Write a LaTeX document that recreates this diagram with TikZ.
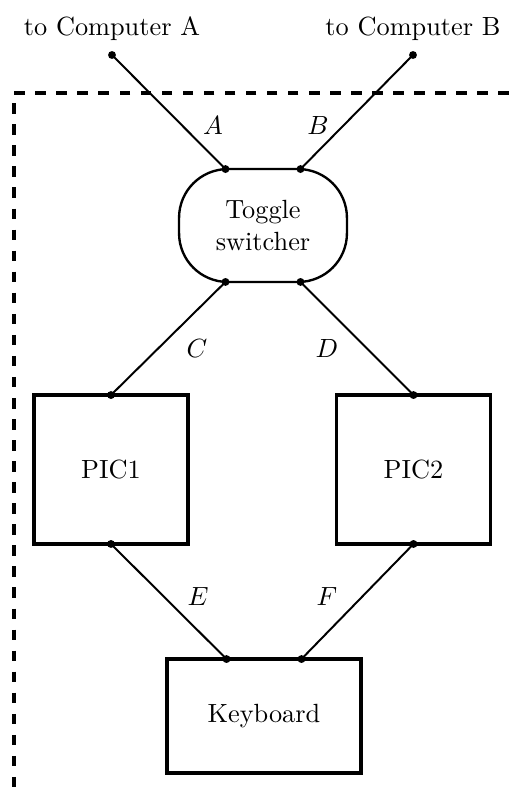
\documentclass[tikz,border=0pt]{standalone}
\usetikzlibrary{calc}
\begin{document}
\begin{tikzpicture}[x=0.38pt,y=-0.38pt,
  box/.style={draw,line width=1.3pt,inner sep=0pt,outer sep=0pt},
  togglebox/.style={draw,line width=0.9pt,inner sep=0pt,outer sep=0pt,rounded corners=18.5pt,align=center},
  wire/.style={line width=0.75pt},
  frame/.style={line width=1.2pt,dash pattern=on 4pt off 4pt},
  dot/.style={circle,fill,inner sep=0pt,minimum size=3pt}]
\useasboundingbox (0,0) rectangle (509,794);

% boundary of the device
\draw[frame] (509,93) -| (14,794);

% main blocks
\node[togglebox,minimum width=63.8pt,minimum height=42.9pt] (tog) at (263,225.5) {Toggle\\switcher};
\node[box,minimum width=58.5pt,minimum height=56.6pt] (pic1) at (111,469.5) {PIC1};
\node[box,minimum width=58.5pt,minimum height=56.6pt] (pic2) at (413.5,469.5) {PIC2};
\node[box,minimum width=73.7pt,minimum height=43.3pt] (kbd) at (264,716) {Keyboard};

% external endpoints
\node[anchor=base] (labA) at (112,35) {to Computer A};
\node[anchor=base] (labB) at (413,35) {to Computer B};
\coordinate (compA) at (112,55);
\coordinate (compB) at (413,55);

% connection points on the blocks
\coordinate (tA) at ($(tog.north)+(-37.5,0)$);
\coordinate (tB) at ($(tog.north)+(37.5,0)$);
\coordinate (tC) at ($(tog.south)+(-37.5,0)$);
\coordinate (tD) at ($(tog.south)+(37.5,0)$);
\coordinate (p1t) at (pic1.north);
\coordinate (p1b) at (pic1.south);
\coordinate (p2t) at (pic2.north);
\coordinate (p2b) at (pic2.south);
\coordinate (kE) at ($(kbd.north)+(-37.5,0)$);
\coordinate (kF) at ($(kbd.north)+(37.5,0)$);

% wires
\draw[wire] (compA) -- (tA);
\draw[wire] (compB) -- (tB);
\draw[wire] (tC) -- (p1t);
\draw[wire] (tD) -- (p2t);
\draw[wire] (p1b) -- (kE);
\draw[wire] (p2b) -- (kF);

% wire labels
\node (lA) at (213,125) {$A$};
\node (lB) at (318,125) {$B$};
\node (lC) at (197,349) {$C$};
\node (lD) at (327,349) {$D$};
\node (lE) at (198,597) {$E$};
\node (lF) at (327,597) {$F$};

% terminals
\foreach \p in {compA,compB,tA,tB,tC,tD,p1t,p1b,p2t,p2b,kE,kF}
  \node[dot] at (\p) {};
\end{tikzpicture}
\end{document}
